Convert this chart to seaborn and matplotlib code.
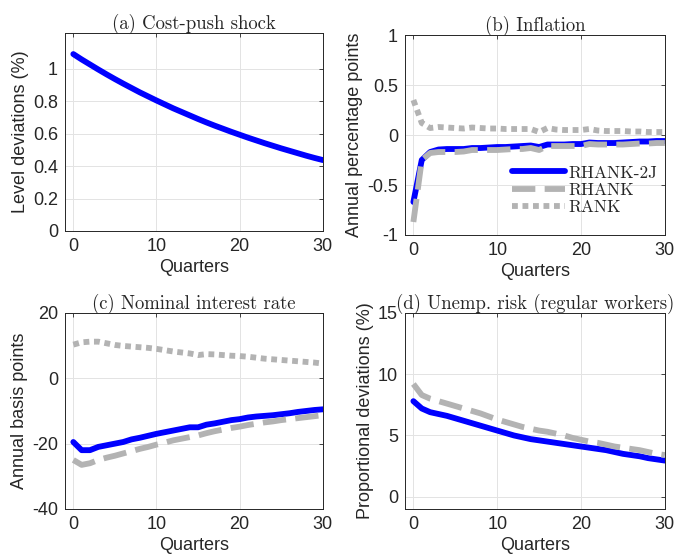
import matplotlib
matplotlib.use("Agg")
import matplotlib.pyplot as plt
import seaborn as sns
import numpy as np
import pandas as pd

# quarters 0..30
quarters = list(range(31))

# (a) cost-push shock, level deviations (%)
shock = [1.090, 1.057, 1.026, 0.995, 0.965, 0.936, 0.908, 0.881, 0.854, 0.829,
         0.804, 0.780, 0.756, 0.734, 0.712, 0.690, 0.669, 0.649, 0.630, 0.611,
         0.593, 0.575, 0.558, 0.541, 0.525, 0.509, 0.494, 0.479, 0.464, 0.450,
         0.437]

# (b) inflation, annual percentage points
infl_rhank2j = [-0.67, -0.25, -0.17, -0.145, -0.14, -0.14, -0.14, -0.13, -0.13, -0.125,
                -0.12, -0.12, -0.115, -0.11, -0.105, -0.12, -0.095, -0.095, -0.095, -0.09,
                -0.09, -0.075, -0.08, -0.08, -0.08, -0.075, -0.07, -0.065, -0.065, -0.06,
                -0.06]
infl_rhank = [-0.87, -0.25, -0.18, -0.17, -0.17, -0.17, -0.165, -0.15, -0.15, -0.15,
              -0.15, -0.145, -0.14, -0.14, -0.13, -0.15, -0.11, -0.11, -0.11, -0.11,
              -0.11, -0.09, -0.095, -0.095, -0.095, -0.095, -0.09, -0.085, -0.085, -0.08,
              -0.08]
infl_rank = [0.35, 0.12, 0.07, 0.08, 0.075, 0.07, 0.065, 0.075, 0.07, 0.065,
             0.065, 0.06, 0.06, 0.06, 0.06, 0.03, 0.07, 0.055, 0.05, 0.05,
             0.05, 0.06, 0.045, 0.04, 0.04, 0.04, 0.035, 0.035, 0.03, 0.03,
             0.03]

# (c) nominal interest rate, annual basis points
rate_rhank2j = [-19.5, -22.0, -22.0, -21.0, -20.5, -20.0, -19.5, -18.7, -18.2, -17.6,
                -17.0, -16.5, -16.0, -15.5, -15.0, -15.0, -14.2, -13.8, -13.3, -12.8,
                -12.5, -12.0, -11.7, -11.5, -11.3, -11.0, -10.7, -10.3, -10.0, -9.7,
                -9.5]
rate_rhank = [-25.0, -26.5, -26.0, -25.0, -24.3, -23.7, -23.0, -22.3, -21.6, -21.0,
              -20.3, -19.7, -19.0, -18.5, -18.0, -17.5, -16.8, -16.2, -15.7, -15.2,
              -14.8, -14.3, -13.9, -13.5, -13.2, -12.8, -12.5, -12.2, -11.9, -11.6,
              -11.3]
rate_rank = [10.3, 11.0, 11.2, 11.2, 10.7, 10.2, 9.9, 9.7, 9.5, 9.3,
             9.0, 8.6, 8.2, 7.9, 7.6, 7.1, 7.4, 7.3, 7.1, 6.9,
             6.8, 6.6, 6.3, 6.0, 5.8, 5.6, 5.4, 5.2, 5.0, 4.8,
             4.5]

# (d) unemployment risk of regular workers, proportional deviations (%)
urisk_rhank2j = [7.8, 7.2, 6.9, 6.75, 6.6, 6.4, 6.2, 6.0, 5.8, 5.6,
                 5.4, 5.2, 5.0, 4.85, 4.7, 4.6, 4.5, 4.4, 4.3, 4.2,
                 4.1, 4.0, 3.9, 3.8, 3.65, 3.5, 3.4, 3.3, 3.15, 3.05,
                 2.95]
urisk_rhank = [9.2, 8.3, 8.0, 7.8, 7.6, 7.4, 7.2, 7.0, 6.8, 6.55,
               6.3, 6.1, 5.9, 5.7, 5.55, 5.4, 5.3, 5.15, 5.0, 4.8,
               4.65, 4.5, 4.4, 4.25, 4.1, 4.0, 3.9, 3.8, 3.65, 3.5,
               3.4]

sns.set_style("whitegrid")
plt.rcParams['font.family'] = ['Liberation Sans', 'DejaVu Sans']
plt.rcParams['axes.unicode_minus'] = False

blue = '#0000ff'
gray = '#b3b3b3'
lw = 4.2
serif = ['cmr10', 'DejaVu Serif']

fig = plt.figure(figsize=(6.75, 5.57), dpi=100)
ax_a = fig.add_axes([0.0963, 0.5853, 0.382, 0.3555])
ax_b = fig.add_axes([0.600, 0.5781, 0.385, 0.359])
ax_c = fig.add_axes([0.0963, 0.0862, 0.382, 0.352])
ax_d = fig.add_axes([0.600, 0.0862, 0.385, 0.352])


def draw_lines(ax, r2j, rh=None, rk=None, legend=False):
    sns.lineplot(x=quarters, y=r2j, ax=ax, color=blue, lw=lw, label='RHANK-2J' if legend else None)
    if rh is not None:
        sns.lineplot(x=quarters, y=rh, ax=ax, color=gray, lw=lw,
                     label='RHANK' if legend else None)
        ax.lines[-1].set_dashes([4, 1.6])
        ax.lines[-1].set_dash_capstyle('butt')
    if rk is not None:
        sns.lineplot(x=quarters, y=rk, ax=ax, color=gray, lw=lw,
                     label='RANK' if legend else None)
        ax.lines[-1].set_dashes([1, 0.8])
        ax.lines[-1].set_dash_capstyle('butt')


def style_axes(ax, title, ylabel, ylim, yticks, yticklabels):
    ax.set_xlim(-1, 30)
    ax.set_ylim(*ylim)
    ax.set_xticks([0, 10, 20, 30])
    ax.set_yticks(yticks)
    ax.set_yticklabels(yticklabels)
    ax.set_title(title, family=serif, fontsize=13.5, pad=3)
    ax.set_xlabel('Quarters', fontsize=13, labelpad=3)
    ax.set_ylabel(ylabel, fontsize=13, labelpad=3)
    ax.tick_params(labelsize=13, direction='in', length=3, width=0.6,
                   top=True, right=True, colors='#262626', pad=5)
    ax.grid(True, color='#e3e3e3', lw=0.7)
    for s in ax.spines.values():
        s.set_color('#262626')
        s.set_linewidth(0.7)


draw_lines(ax_a, shock)
style_axes(ax_a, '(a) Cost-push shock', 'Level deviations (%)', (0, 1.22),
           [0, 0.2, 0.4, 0.6, 0.8, 1.0], ['0', '0.2', '0.4', '0.6', '0.8', '1'])

draw_lines(ax_b, infl_rhank2j, infl_rhank, infl_rank, legend=True)
style_axes(ax_b, '(b) Inflation', 'Annual percentage points', (-1, 1),
           [-1, -0.5, 0, 0.5, 1], ['-1', '-0.5', '0', '0.5', '1'])
leg = ax_b.legend(loc='lower right', frameon=False, prop={'family': serif, 'size': 12.5},
                  handlelength=3.0, handletextpad=0.2, labelspacing=0.12,
                  bbox_to_anchor=(1.03, 0.02))

draw_lines(ax_c, rate_rhank2j, rate_rhank, rate_rank)
style_axes(ax_c, '(c) Nominal interest rate', 'Annual basis points', (-40, 20),
           [-40, -20, 0, 20], ['-40', '-20', '0', '20'])

draw_lines(ax_d, urisk_rhank2j, urisk_rhank)
style_axes(ax_d, '(d) Unemp. risk (regular workers)', 'Proportional deviations (%)', (-1, 15),
           [0, 5, 10, 15], ['0', '5', '10', '15'])

fig.savefig('out.png', dpi=100)
